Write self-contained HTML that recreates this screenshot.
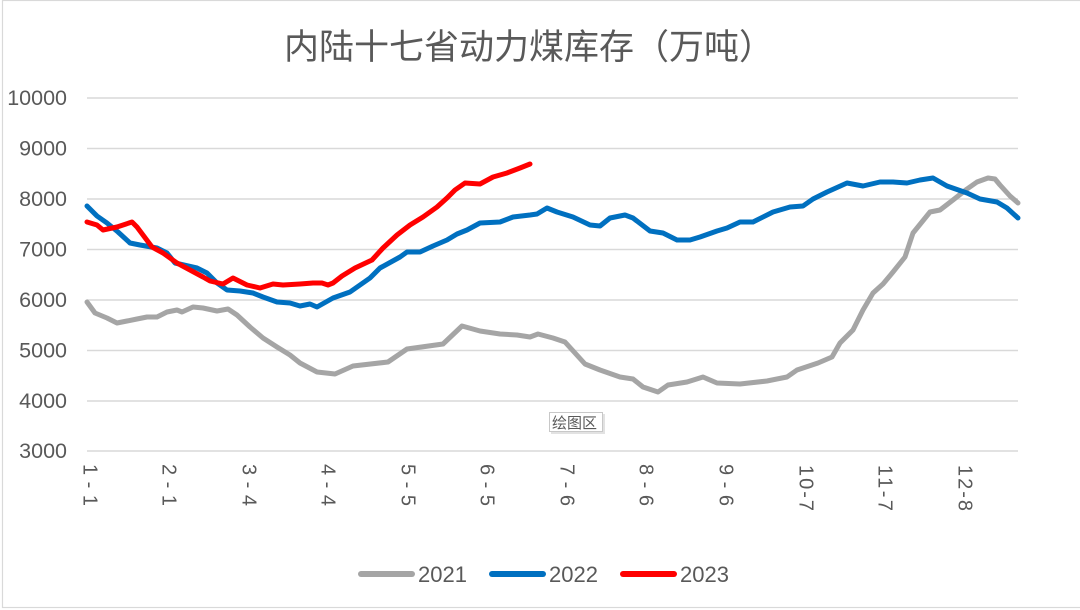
<!DOCTYPE html>
<html><head><meta charset="utf-8"><style>
html,body{margin:0;padding:0;background:#fff;}
svg{display:block;}
text{font-family:"Liberation Sans","Noto Sans CJK SC",sans-serif;fill:#595959;}
</style></head><body>
<svg width="1080" height="610" viewBox="0 0 1080 610" xmlns="http://www.w3.org/2000/svg">
<rect x="0" y="0" width="1080" height="610" fill="#fff"/>
<rect x="2.5" y="0.5" width="1100" height="607" fill="none" stroke="#d9d9d9" stroke-width="1.2"/>
<text x="284" y="59" font-size="35" style="font-family:'Liberation Sans','Noto Sans CJK SC',sans-serif">内陆十七省动力煤库存（万吨）</text>
<g stroke="#d9d9d9" stroke-width="1.4">
<line x1="87" y1="98" x2="1018" y2="98"/>
<line x1="87" y1="148.5" x2="1018" y2="148.5"/>
<line x1="87" y1="199" x2="1018" y2="199"/>
<line x1="87" y1="249.5" x2="1018" y2="249.5"/>
<line x1="87" y1="300" x2="1018" y2="300"/>
<line x1="87" y1="350.5" x2="1018" y2="350.5"/>
<line x1="87" y1="401" x2="1018" y2="401"/>
<line x1="87" y1="451" x2="1018" y2="451"/>
</g>
<g font-size="21.5" text-anchor="end">
<text x="67" y="105">10000</text>
<text x="67" y="155.5">9000</text>
<text x="67" y="206">8000</text>
<text x="67" y="256.5">7000</text>
<text x="67" y="307">6000</text>
<text x="67" y="357.5">5000</text>
<text x="67" y="408">4000</text>
<text x="67" y="458">3000</text>
</g>
<g font-size="20" dominant-baseline="middle">
<text transform="translate(89,464) rotate(90)" textLength="42" lengthAdjust="spacing">1-1</text>
<text transform="translate(168,464) rotate(90)" textLength="42" lengthAdjust="spacing">2-1</text>
<text transform="translate(248,464) rotate(90)" textLength="42" lengthAdjust="spacing">3-4</text>
<text transform="translate(327,464) rotate(90)" textLength="42" lengthAdjust="spacing">4-4</text>
<text transform="translate(407,464) rotate(90)" textLength="42" lengthAdjust="spacing">5-5</text>
<text transform="translate(486,464) rotate(90)" textLength="42" lengthAdjust="spacing">6-5</text>
<text transform="translate(566,464) rotate(90)" textLength="42" lengthAdjust="spacing">7-6</text>
<text transform="translate(645,464) rotate(90)" textLength="42" lengthAdjust="spacing">8-6</text>
<text transform="translate(725,464) rotate(90)" textLength="42" lengthAdjust="spacing">9-6</text>
<text transform="translate(805,465) rotate(90)" textLength="46" lengthAdjust="spacing">10-7</text>
<text transform="translate(884,465) rotate(90)" textLength="46" lengthAdjust="spacing">11-7</text>
<text transform="translate(964,465) rotate(90)" textLength="46" lengthAdjust="spacing">12-8</text>
</g>
<g fill="none" stroke-width="5" stroke-linejoin="round" stroke-linecap="round">
<polyline stroke="#A5A5A5" points="87,302 95,313 107,318 117,323 127,321 137,319 147,317 157,317 167,312 177,310 182,312 193,307 203,308 217,311 228,309 237,315 250,327 263,338 277,347 290,355 300,363 317,372 335,374 353,366 388,362 407,349 443,344 462,326 480,331 500,334 517,335 530,337 538,334 553,338 565,342 585,364 600,370 620,377 633,379 643,387 658,392 668,385 687,382 703,377 717,383 740,384 767,381 787,377 797,370 818,363 832,357 840,343 853,330 863,310 873,293 883,284 893,272 905,257 913,233 930,212 940,210 953,200 967,189 977,182 988,178 995,179 1000,185 1010,196 1018,203"/>
<polyline stroke="#0070C0" points="87,206 97,216 107,223 118,232 130,243 140,245 157,248 167,253 175,263 197,268 207,273 217,283 227,290 240,291 253,293 263,297 277,302 290,303 300,306 310,304 317,307 333,298 350,292 370,278 380,268 400,257 407,252 420,252 433,246 447,240 457,234 467,230 480,223 500,222 513,217 530,215 537,214 547,208 557,212 573,217 590,225 600,226 610,218 625,215 633,218 650,231 663,233 677,240 690,240 700,237 717,231 727,228 740,222 753,222 773,212 790,207 803,206 813,199 827,192 847,183 863,186 880,182 893,182 907,183 920,180 933,178 947,186 967,193 980,199 997,202 1007,208 1018,218"/>
<polyline stroke="#FF0000" points="87,222 97,225 103,230 117,227 132,222 137,227 152,247 163,253 177,263 190,270 203,277 210,281 223,284 233,278 247,285 260,288 273,284 283,285 300,284 313,283 322,283 328,285 333,283 342,276 355,268 372,260 383,248 397,235 410,225 423,217 437,207 447,198 455,190 465,183 480,184 493,177 507,173 520,168 530,164"/>
</g>
<g>
<rect x="551" y="414" width="54" height="20" fill="#cfcfcf" opacity="0.6"/>
<rect x="549.5" y="412.5" width="53" height="19" fill="#fff" stroke="#c8c8c8" stroke-width="1"/>
<text x="552" y="428" font-size="15" style="font-family:'Noto Sans CJK SC',sans-serif">绘图区</text>
</g>
<g stroke-width="6" stroke-linecap="round">
<line x1="361" y1="574" x2="412" y2="574" stroke="#A5A5A5"/>
<line x1="492" y1="574" x2="543" y2="574" stroke="#0070C0"/>
<line x1="623" y1="574" x2="674" y2="574" stroke="#FF0000"/>
</g>
<g font-size="22">
<text x="418" y="582">2021</text>
<text x="549" y="582">2022</text>
<text x="680" y="582">2023</text>
</g>
</svg>
</body></html>
